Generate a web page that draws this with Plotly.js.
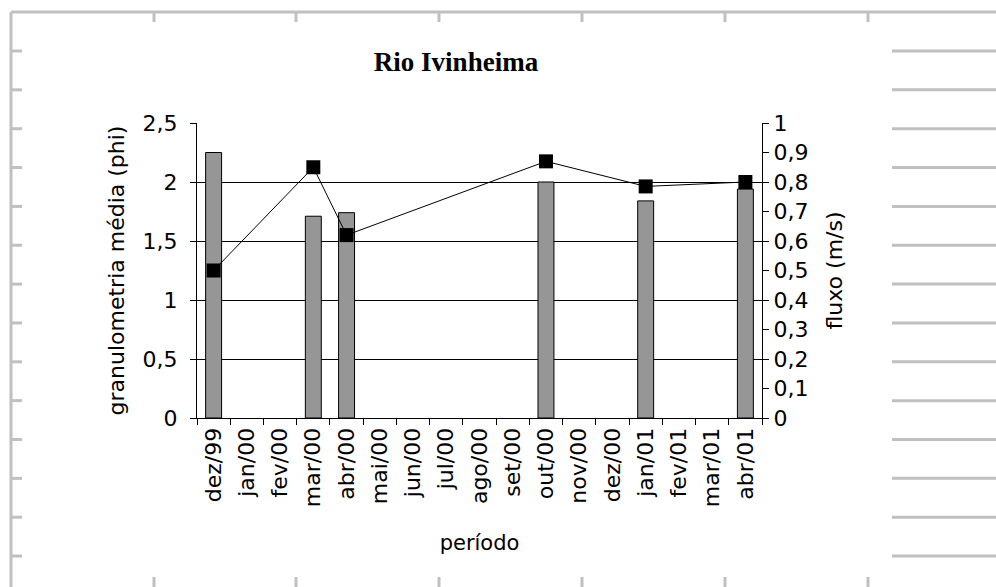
<!DOCTYPE html>
<html>
<head>
<meta charset="utf-8">
<script src="https://cdn.plot.ly/plotly-3.0.1.min.js"></script>
<style>html,body{margin:0;padding:0;background:#fff;}#chart{width:996px;height:587px;}</style>
</head>
<body>
<div id="chart"></div>
<script>
// ---- data ----
const months = ["dez/99","jan/00","fev/00","mar/00","abr/00","mai/00","jun/00","jul/00","ago/00","set/00","out/00","nov/00","dez/00","jan/01","fev/01","mar/01","abr/01"];
const sampleMonths = ["dez/99","mar/00","abr/00","out/00","jan/01","abr/01"];
const granulometria = [2.25, 1.71, 1.74, 2.0, 1.84, 1.94];
const fluxo = [0.50, 0.85, 0.62, 0.87, 0.785, 0.80];
const leftTicks = [0, 0.5, 1, 1.5, 2, 2.5];
const rightTicks = [0, 0.1, 0.2, 0.3, 0.4, 0.5, 0.6, 0.7, 0.8, 0.9, 1];

// ---- layout geometry (pixels) ----
const W = 996, H = 587;
const PL = 197, PR = 762, PT = 123, PB = 418;
const px = x => (x - PL) / (PR - PL);
const py = y => (PB - y) / (PB - PT);

// decorative page frame
const deco = [];
const gc = '#c0c0c0';
function seg(x0, y0, x1, y1) {
  deco.push({type:'line', xref:'paper', yref:'paper', x0:px(x0), y0:py(y0), x1:px(x1), y1:py(y1), line:{color:gc, width:3}, layer:'below'});
}
seg(11, 12, 11, 587);
seg(11, 12, 996, 12);
[154, 296, 439, 582, 725, 868].forEach(x => { seg(x, 12, x, 22); seg(x, 577, x, 587); });
for (let k = 0; k < 14; k++) {
  const y = 51 + 38.85 * k;
  seg(11, y, 22, y);
  seg(892, y, 996, y);
}

const traces = [
  {
    type: 'bar', x: sampleMonths, y: granulometria, yaxis: 'y', width: 0.48,
    marker: {color: '#969696', line: {color: '#000', width: 1}},
    name: 'granulometria', hoverinfo: 'x+y'
  },
  {
    type: 'scatter', mode: 'lines+markers', x: sampleMonths, y: fluxo, yaxis: 'y2',
    line: {color: '#000', width: 1},
    marker: {symbol: 'square', size: 14, color: '#000'},
    name: 'fluxo', cliponaxis: false
  }
];

const font = {family: 'DejaVu Sans, sans-serif', size: 22, color: '#000'};

const layout = {
  width: W, height: H,
  margin: {l: PL, r: W - PR, t: PT, b: H - PB, pad: 0},
  paper_bgcolor: '#fff', plot_bgcolor: '#fff',
  separators: ',.',
  showlegend: false,
  font: font,
  xaxis: {
    type: 'category', categoryorder: 'array', categoryarray: months,
    range: [-0.5, months.length - 0.5],
    tickson: 'boundaries', ticks: 'outside', ticklen: 6, tickcolor: '#000', tickwidth: 1,
    showline: true, linecolor: '#000', linewidth: 1, showgrid: false,
    tickangle: -90, tickfont: font,
    title: {text: 'período', font: {family: font.family, size: 21, color: '#000'}, standoff: 29}
  },
  yaxis: {
    range: [0, 2.5], tickvals: leftTicks, ticktext: leftTicks.map(v => String(v).replace('.', ',')),
    ticks: 'outside', ticklen: 6, tickcolor: '#000', ticklabelstandoff: 8,
    showline: true, linecolor: '#000', linewidth: 1,
    showgrid: true, gridcolor: '#000', gridwidth: 1, zeroline: false,
    tickfont: font,
    title: {text: 'granulometria média (phi)', font: font, standoff: 11}
  },
  yaxis2: {
    overlaying: 'y', side: 'right',
    range: [0, 1], tickvals: rightTicks, ticktext: rightTicks.map(v => String(v).replace('.', ',')),
    ticks: 'outside', ticklen: 6, tickcolor: '#000',
    showline: true, linecolor: '#000', linewidth: 1,
    showgrid: false, zeroline: false,
    tickfont: font,
    title: {text: 'fluxo (m/s)', font: font, standoff: 19}
  },
  title: {
    text: '<b>Rio Ivinheima</b>',
    font: {family: 'Liberation Serif, Times New Roman, serif', size: 27, color: '#000'},
    xref: 'paper', x: px(456), xanchor: 'center',
    yref: 'container', y: 1 - 62 / H, yanchor: 'middle'
  },
  shapes: deco
};

Plotly.newPlot('chart', traces, layout, {displayModeBar: false, staticPlot: true});
</script>
</body>
</html>
